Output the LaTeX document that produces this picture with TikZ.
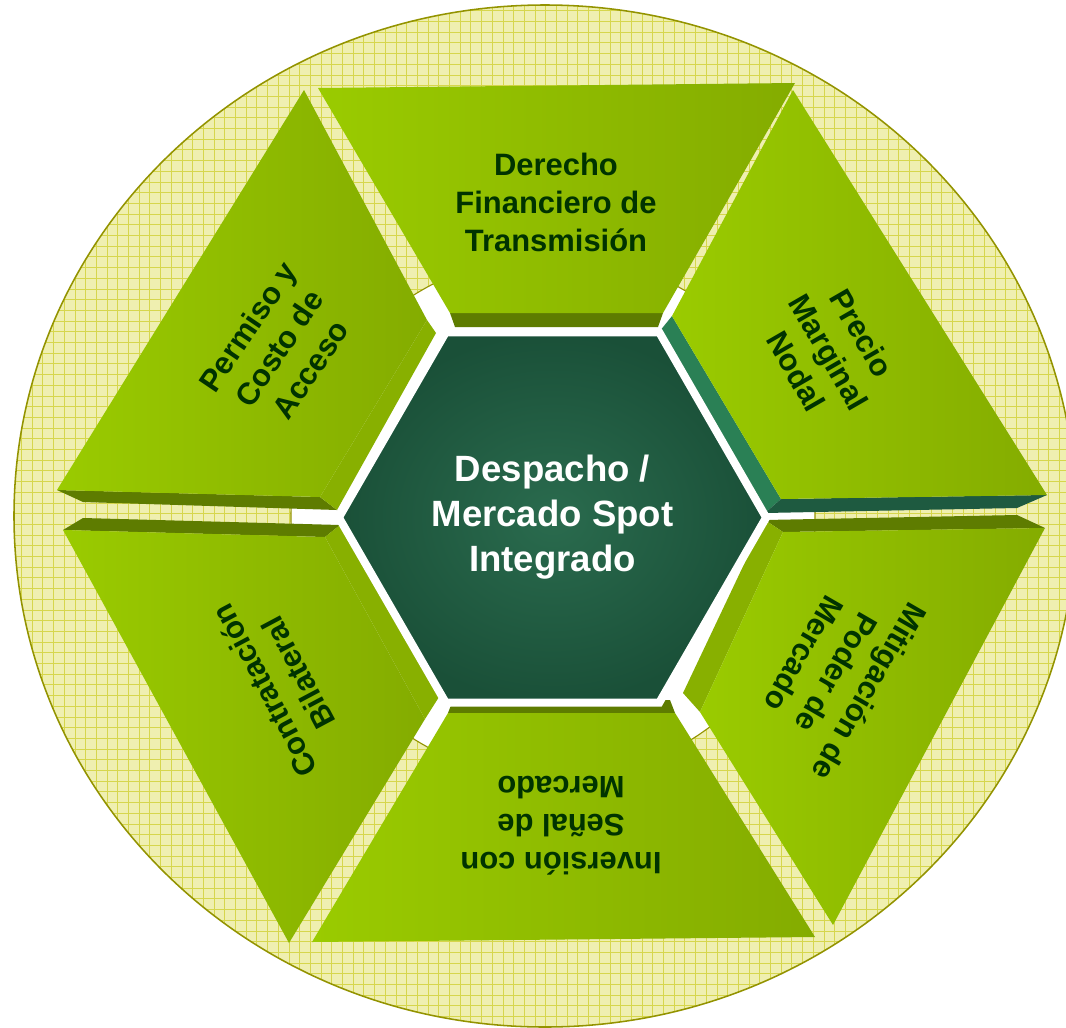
\documentclass[tikz,border=0pt]{standalone}
\usepackage{fontspec}
\setmainfont{Liberation Sans}
\usetikzlibrary{shapes.geometric}

\definecolor{bgfill}{HTML}{EFEFB0}
\definecolor{gridline}{HTML}{D6D64C}
\definecolor{rim}{HTML}{939300}
\definecolor{leafhi}{HTML}{9ACB00}
\definecolor{leaflo}{HTML}{84AC00}
\definecolor{leafside}{HTML}{88B000}
\definecolor{leafdark}{HTML}{5E7C00}
\definecolor{tealside}{HTML}{2A8055}
\definecolor{tealdark}{HTML}{1E5A40}
\definecolor{hexin}{HTML}{2A6B4E}
\definecolor{hexout}{HTML}{1A5038}
\definecolor{lbltext}{HTML}{003300}

\begin{document}
\begin{tikzpicture}[x=0.025cm, y=-0.025cm,
	face/.style={left color=leafhi, right color=leaflo},
	side/.style={fill=leafside},
	strip/.style={fill=leafdark},
	lbl/.style={align=center, text=lbltext, font=\fontsize{22}{27}\selectfont\bfseries}]
			\useasboundingbox (0,0) rectangle (1066,1027);
			\begin{scope}
				\clip (545,516) ellipse [x radius=531, y radius=511];
				\fill[bgfill] (0,0) rectangle (1080,1030);
				\foreach \i in {0,...,101} {\draw[gridline, line width=0.5pt] (\i*10.7,0) -- (\i*10.7,1030);}
				\foreach \j in {0,...,97} {\draw[gridline, line width=0.5pt] (0,\j*10.7) -- (1080,\j*10.7);}
			\end{scope}
			\draw[rim, line width=1.1pt] (545,516) ellipse [x radius=531, y radius=511];
			\draw[rim, fill=white, line width=0.8pt] (553,517) circle [radius=262];
			% top
			\fill[strip] (450,313) -- (663,313) -- (658,327) -- (455,327) -- cycle;
			\shade[face] (318,88) -- (795,83) -- (663,313) -- (450,313) -- cycle;
			% upper right
			\fill[tealside] (672,316) -- (781,499) -- (765,513) -- (655,337) -- cycle;
			\fill[tealdark] (781,499) -- (1047,495) -- (1017,508) -- (765,513) -- cycle;
			\shade[face] (793,90) -- (1047,495) -- (781,499) -- (672,316) -- cycle;
			% lower right
			\fill[strip] (765,520) -- (1017,515) -- (1045,528) -- (783,532) -- cycle;
			\fill[side] (765,520) -- (783,532) -- (700,712) -- (683,693) -- cycle;
			\shade[face] (783,532) -- (1045,528) -- (833,925) -- (700,712) -- cycle;
			% bottom
			\fill[strip] (453,700) -- (670,700) -- (675,713) -- (448,713) -- cycle;
			\shade[face] (448,713) -- (675,713) -- (815,937) -- (312,942) -- cycle;
			% lower left
			\fill[strip] (63,530) -- (83,518) -- (340,525) -- (325,537) -- cycle;
			\fill[side] (325,537) -- (340,525) -- (439,697) -- (425,719) -- cycle;
			\shade[face] (63,530) -- (325,537) -- (425,719) -- (289,943) -- cycle;
			% upper left
			\fill[strip] (57,490) -- (320,497) -- (337,510) -- (83,502) -- cycle;
			\fill[side] (427,320) -- (436,333) -- (337,510) -- (320,497) -- cycle;
			\shade[face] (304,90) -- (427,320) -- (320,497) -- (57,490) -- cycle;
			\node[regular polygon, regular polygon sides=6, minimum size=10.68cm, inner sep=0pt,
				draw=white, line width=5.7pt, inner color=hexin, outer color=hexout,
				text=white, align=center, font=\fontsize{26}{32}\selectfont\bfseries]
				(despacho) at (552.5,517.5) {Despacho /\\Mercado Spot\\Integrado};
			\node[lbl] (derecho) at (556,202) {Derecho\\Financiero de\\Transmisión};
			\node[lbl, rotate=-60] (precio) at (829,352) {Precio\\Marginal\\Nodal};
			\node[lbl, rotate=-120] (mitigacion) at (837,673) {Mitigación de\\Poder de\\Mercado};
			\node[lbl, rotate=180] (inversion) at (561,826) {Inversión con\\Señal de\\Mercado};
			\node[lbl, rotate=118] (contratacion) at (281,682) {Contratación\\Bilateral};
			\node[lbl, rotate=56] (permiso) at (279,348) {Permiso y\\Costo de\\Acceso};
\end{tikzpicture}
\end{document}
